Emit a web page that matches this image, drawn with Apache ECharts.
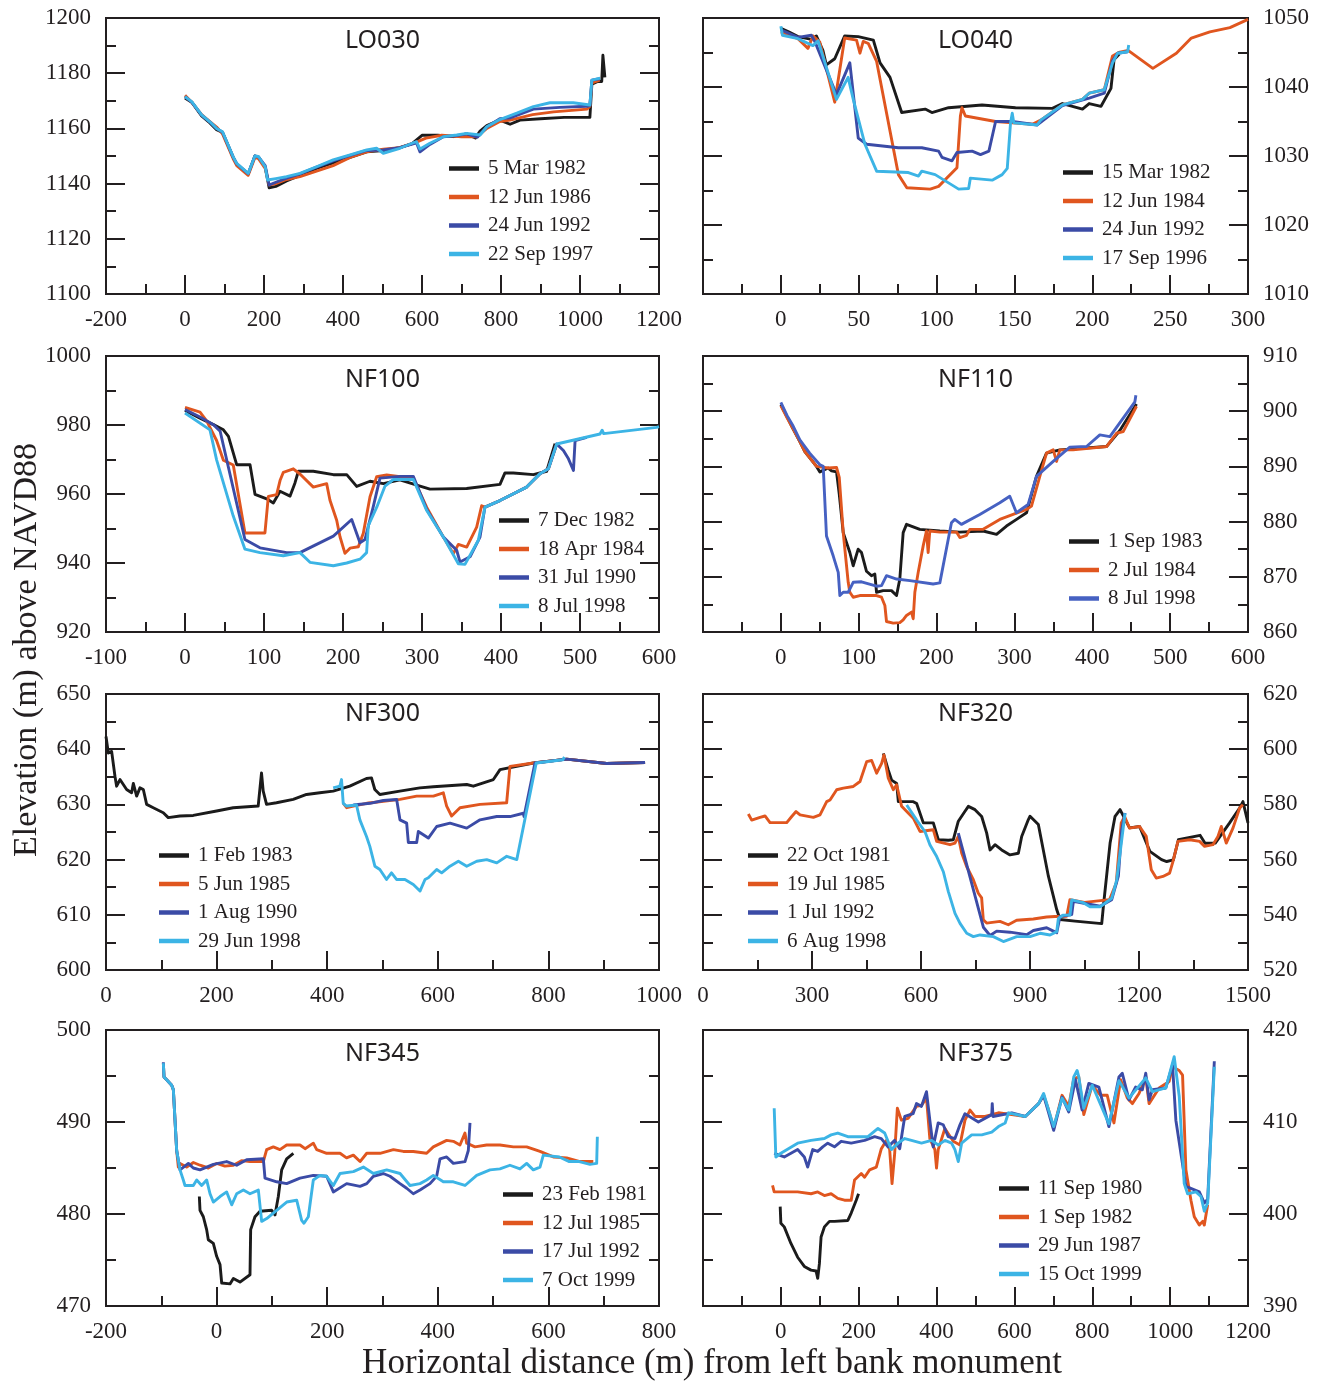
<!DOCTYPE html>
<html><head><meta charset="utf-8">
<script src="https://cdn.jsdelivr.net/npm/echarts@6/dist/echarts.min.js"></script>
<style>html,body{margin:0;padding:0;background:#fff}#c{width:1332px;height:1384px}</style>
</head><body><div id="c"></div>
<script>
// ---------- DATA ----------
const panelNames = ['LO030','LO040','NF100','NF110','NF300','NF320','NF345','NF375'];
const lo030Dates = ['5 Mar 1982','12 Jun 1986','24 Jun 1992','22 Sep 1997'];
const lo040Dates = ['15 Mar 1982','12 Jun 1984','24 Jun 1992','17 Sep 1996'];
const nf100Dates = ['7 Dec 1982','18 Apr 1984','31 Jul 1990','8 Jul 1998'];
const nf110Dates = ['1 Sep 1983','2 Jul 1984','8 Jul 1998'];
const nf300Dates = ['1 Feb 1983','5 Jun 1985','1 Aug 1990','29 Jun 1998'];
const nf320Dates = ['22 Oct 1981','19 Jul 1985','1 Jul 1992','6 Aug 1998'];
const nf345Dates = ['23 Feb 1981','12 Jul 1985','17 Jul 1992','7 Oct 1999'];
const nf375Dates = ['11 Sep 1980','1 Sep 1982','29 Jun 1987','15 Oct 1999'];

const xMin = [-200,-50,-100,-100,0,0,-200,-200];
const xMax = [1200,300,600,600,1000,1500,800,1200];
const xStep = [200,50,100,100,200,300,200,200];
const yMin = [1100,1010,920,860,600,520,470,390];
const yMax = [1200,1050,1000,910,650,620,500,420];
const yStep = [20,10,20,10,10,20,10,10];

const lo030_a = [[0,1171],[17,1169.5],[42,1164.5],[63,1162],[80,1159.5],[95,1158.5],[122,1149.5],[131,1147],[160,1143.5],[177,1150],[186,1149.5],[203,1146],[213,1138.5],[230,1139],[257,1141],[291,1143],[333,1145.5],[375,1147.5],[418,1149.5],[460,1151.5],[502,1152],[544,1153],[575,1154.5],[600,1157.5],[640,1157.5],[680,1157],[713,1158],[735,1156.5],[747,1159],[764,1161],[797,1163],[823,1161.5],[848,1163],[900,1163.5],[960,1164],[1025,1164],[1030,1176],[1045,1177],[1055,1177],[1058,1186.5],[1063,1178.5]];
const lo030_b = [[0,1172],[17,1169.5],[42,1165],[63,1162.5],[80,1160.5],[95,1158],[122,1149],[131,1146.5],[160,1143],[177,1149.5],[186,1149],[203,1145.5],[213,1139.5],[230,1140],[257,1141.5],[291,1142.5],[333,1144.5],[375,1146.5],[418,1149.5],[460,1151.5],[502,1152.5],[544,1153],[586,1155],[610,1156.5],[650,1157.5],[700,1157],[740,1157],[764,1160],[797,1162.5],[823,1163],[880,1165],[933,1166],[1018,1167],[1025,1168],[1030,1176.5],[1050,1177.5]];
const lo030_c = [[0,1171.5],[17,1169.5],[42,1164.8],[63,1162.3],[80,1160],[95,1158.6],[122,1149.6],[131,1147.2],[160,1143.6],[177,1150],[186,1149.7],[203,1146.5],[213,1139.5],[230,1140.5],[257,1142],[291,1143.5],[333,1146],[375,1148.2],[418,1150.2],[460,1152],[502,1152.2],[544,1153],[586,1154.8],[595,1151.5],[620,1154.2],[654,1157],[688,1157.4],[713,1158],[740,1156.8],[764,1160.5],[797,1163.5],[823,1163.8],[882,1167],[949,1167.6],[1018,1168],[1025,1168.3],[1030,1177.5],[1050,1178]];
const lo030_d = [[0,1171.5],[17,1169.7],[42,1164.9],[63,1162.4],[80,1160],[95,1158.8],[122,1149.7],[131,1147.3],[160,1143.7],[177,1150],[186,1149.8],[203,1146.1],[209,1141.3],[230,1141.8],[257,1142.5],[291,1143.7],[333,1146.1],[375,1148.6],[418,1150.4],[460,1152.2],[485,1152.8],[502,1151],[544,1152.8],[578,1154.8],[586,1155.2],[595,1152.5],[620,1154.6],[654,1157],[688,1157.6],[713,1158.2],[747,1157.6],[764,1160.6],[797,1163.2],[840,1165.5],[882,1167.9],[924,1169.3],[983,1169.3],[1025,1168.5],[1030,1177.5],[1051,1178.2]];

const lo040_a = [[0,1048.5],[5,1048],[11,1047.3],[19.6,1046.9],[22.8,1047.4],[27,1045.3],[29.2,1043.2],[34.6,1044.1],[41,1047.4],[49.7,1047.3],[59.4,1046.8],[63.7,1043.5],[70.1,1041.4],[77.6,1036.3],[92.7,1036.8],[97,1036.3],[107.7,1037],[129.2,1037.4],[150.7,1037],[174.4,1036.9],[180.8,1037.6],[193.7,1036.8],[198,1037.6],[205.6,1037.2],[212,1039.8],[214,1044],[217.4,1044.8]];
const lo040_b = [[0,1048],[11,1047],[17.4,1045.6],[20.6,1047.4],[25,1046.5],[34.6,1037.8],[41,1047.1],[48.6,1046.8],[50.8,1044.9],[52.9,1046.6],[56.2,1046.3],[61.5,1043.7],[75.5,1027.3],[80.9,1025.4],[95.9,1025.2],[101.3,1025.6],[113.1,1028.3],[115.3,1035.8],[116.3,1037],[118.5,1035.8],[137.9,1035],[161.5,1034.6],[166.9,1035.2],[180.8,1037.4],[193.7,1038.2],[198,1039.1],[207.7,1039.6],[213,1044.5],[217,1045],[223,1045.3],[238.9,1042.7],[254,1044.9],[263.6,1047.1],[275.5,1048],[288.4,1048.6],[300,1049.8]];
const lo040_c = [[0,1048.3],[11,1047.2],[19.6,1047.5],[22,1046.5],[35.7,1038.9],[44.3,1043.5],[49.7,1032.6],[55.1,1031.7],[75.5,1031.2],[90.5,1031.2],[101.3,1030.7],[103.5,1029.8],[109.9,1029.3],[113.1,1030.5],[122.8,1030.7],[128.2,1030.2],[133.6,1030.7],[137.9,1035],[148.6,1035],[164.7,1034.5],[180.8,1037.3],[198,1038.4],[207.7,1039.1],[213,1043.8],[216.3,1044.9],[222.7,1045.1]];
const lo040_d = [[0,1048.8],[1,1047.5],[11,1047],[20.6,1046],[23.9,1046.7],[35.7,1038.2],[43.2,1041.4],[46.5,1038.2],[54,1031.7],[61.5,1027.8],[81.9,1027.6],[88.4,1027.1],[90.5,1027.8],[99.1,1027.3],[114.2,1025.2],[120.6,1025.3],[121.7,1026.8],[135.7,1026.5],[142.1,1027.3],[145.4,1028.2],[147.5,1034.8],[148.6,1036.2],[149.6,1034.8],[164.7,1034.5],[166.9,1035.2],[180.8,1037.4],[193.7,1038.2],[198,1039.1],[207.7,1039.6],[213,1043.5],[216.3,1044.9],[222.7,1045.1],[223.4,1046.1]];

const nf100_a = [[0,984.2],[19,982],[36,980.1],[48.6,978.6],[55,976.7],[65.4,968.5],[82.3,968.5],[88.6,959.9],[103.4,958.6],[111.8,957.4],[120.3,960.8],[133,959.4],[139.2,963.2],[143.5,966.6],[162.4,966.6],[187.8,965.6],[204.7,965.6],[217.3,962.2],[234.2,963.7],[251.1,963],[272,964.1],[297.5,962.3],[310.1,961.4],[356.5,961.6],[398.7,962.8],[405,966.1],[415.6,966.1],[441,965.6],[457.8,966.6],[468.4,974.6]];
const nf100_b = [[0,985.1],[19,983.7],[27.4,981.2],[40,975.5],[48.6,969.8],[61.1,968.4],[75.9,948.7],[101.2,948.7],[105.5,959.3],[116,959.8],[120.3,963.9],[124.5,966.3],[137.1,967.3],[145.5,965.8],[162.4,962],[179.3,963],[183.5,958.2],[192,952.4],[196.2,947.6],[202.5,942.8],[208.9,944.3],[219.4,944.7],[225.7,948.6],[234.2,959.2],[242.6,965],[255.3,965.5],[289,964.5],[306,956.1],[327.1,947.5],[339.7,942.7],[346,945.4],[356.6,944.6],[369.2,950.4],[375.5,956.6],[379.7,956.2],[398.7,958.1],[432.5,962],[449.4,965.9],[460,967.3],[470.5,974.5]];
const nf100_c = [[0,984.5],[19,982.3],[36,980.1],[44.5,978.2],[75.9,946.8],[94.9,944.4],[128.7,943],[145.5,943],[187.8,947.8],[211,952.6],[221.5,945.9],[227.8,946.8],[238.4,956.4],[246.8,964.6],[272.2,965.1],[289,965.1],[306,955.5],[327.1,947.5],[343.9,943.7],[348.1,940.3],[360.8,941.8],[373.4,947.5],[379.7,956.2],[398.7,958.1],[432.5,962],[449.4,965.9],[460,967.3],[470.5,974.5],[479,972.6],[485.4,970.2],[491.7,966.8],[493.8,975.5],[508.6,976.4]];
const nf100_d = [[0,983.5],[31.6,978.6],[40,969.9],[61.1,953.6],[75.9,944],[94.9,943],[124.4,942.1],[145.5,943],[158.2,940.2],[187.8,939.2],[204.7,940],[221.5,941.1],[229.9,943],[232,950.8],[242.6,956.1],[253.2,962.3],[263.7,964.2],[289,964.2],[306,955.2],[327.1,947.5],[346,939.8],[354.4,939.6],[371.3,946.6],[379.7,956.2],[398.7,958.1],[432.5,962],[449.4,965.9],[460,967.3],[470.5,974.5],[525.3,977.4],[528,978.5],[530,977.5],[597,979.3],[600,979.5]];

const nf110_a = [[0,901.2],[8,899],[15,897],[24.4,894.5],[30.8,892.7],[45.8,890],[50.1,889],[60.8,889.7],[65.1,889.2],[71.5,889],[75,885],[80.1,878],[88.6,874.4],[92.9,872],[99.3,875],[103.6,874.4],[110,871],[116.4,870.2],[120.7,870.5],[122.9,867.2],[131.4,867.5],[142.1,867.5],[148.6,866.6],[152.8,869.6],[157.1,878],[161.4,879.5],[178.5,878.6],[204.2,878.3],[229.9,878.1],[259.8,878.3],[277,877.7],[289.8,879.2],[302.7,880.4],[315.5,881.6],[328.3,888.2],[341.2,892.4],[358.3,893],[418.3,893.6],[435.4,896.5],[456.8,901.3]];
const nf110_b = [[0,901],[8,898.8],[15,897],[24.4,894.5],[30.8,892.7],[45.8,890],[60.8,889.7],[71.5,889.8],[75,888],[80.1,878],[86.5,869],[88.6,867.2],[92.9,866.3],[101.4,866.6],[110,866.6],[122.9,866.6],[129.3,866.3],[133.6,864.8],[135.7,861.9],[144.3,861.6],[152.8,861.7],[157.1,862.2],[161.4,863],[167.8,863.6],[170,862.4],[172.1,867.2],[176.4,870.8],[182.8,875.6],[187,878.3],[189.2,874.4],[191.3,878.3],[204.2,878.1],[225.6,878.1],[229.9,877.1],[238.4,877.5],[242.7,878.6],[259.8,878.6],[281.2,880.4],[298.3,881.3],[315.5,882.2],[321.9,882.8],[332.6,888.2],[341.2,892.4],[349.8,893],[354.1,890.9],[358.3,893],[375.4,893],[418.3,893.6],[431.1,896],[439.7,896.3],[456.8,900.9]];
const nf110_c = [[0,901.6],[8,899.2],[15,897.5],[24.4,894.8],[37,892.4],[50.1,890.3],[54.4,890],[58.6,877.4],[67.2,873.8],[73.7,870.8],[75.8,866.6],[80.1,867.2],[86.5,867.2],[92.9,869],[103.6,869.1],[122.9,868.3],[129.3,868.4],[135.7,870.2],[148.6,869.6],[165.7,869.3],[195.6,868.7],[204.2,868.9],[219.1,879.8],[223.4,880.4],[231.9,879.5],[255.5,881.3],[281.2,883.4],[294,884.6],[302.6,881.6],[317.6,883.1],[328.3,888.2],[349.8,890.9],[371.2,893.5],[392.6,893.6],[409.7,895.7],[422.6,895.4],[454.7,901.7],[456,902.9]];

const nf300_a = [[0,642.3],[4.2,639.3],[10.2,639.6],[16.2,635.1],[19.2,633.3],[25.3,634.5],[37.3,632.7],[46.3,632.1],[49.4,633.8],[55.4,631.5],[61.4,633],[67.5,632.7],[73.5,630],[85.5,629.4],[103.6,628.5],[112.6,627.6],[133.7,627.9],[157.8,628],[200,628.8],[230,629.4],[275.2,629.7],[281.2,635.7],[284.3,632.4],[290.3,630],[308.3,630.3],[338.5,630.9],[362.6,631.8],[386.7,632.1],[410.8,632.4],[440.9,633.3],[471,634.7],[480.1,634.8],[486.1,632.7],[495.2,631.8],[531.3,632.4],[567.5,633],[592,633.2],[652.3,633.6],[664.3,633.3],[700.5,634.5],[712.5,636.3],[772.8,637.5],[833.1,638.2],[905.4,637.4],[974.8,637.6]];
const nf300_b = [[429.2,630.2],[435.2,629.4],[447.3,629.7],[471.4,630.2],[531.6,630.9],[561.7,631.5],[592,631.5],[610,632.1],[616,629.7],[625,627.9],[640.1,629.4],[676.3,630],[724.5,630.3],[730.5,636.9],[772.8,637.5],[833.1,638.2],[905.4,637.4],[974.8,637.6]];
const nf300_c = [[447.3,629.9],[477.4,630.2],[501.5,630.7],[525.6,630.9],[531.6,627.2],[543.7,626.6],[546.7,623.1],[561.8,623.1],[564.8,625.1],[582.9,623.9],[598,626],[622.1,626.6],[652.3,625.7],[676.4,627.2],[706.5,627.8],[730.6,627.8],[754.7,628.4],[755.9,627.8],[775.7,637.5],[833.1,638.2],[905.4,637.4],[974.8,637.6]];
const nf300_d = [[410.8,633],[422.9,633.3],[425.9,634.5],[429,630.2],[435,629.7],[453,629.9],[459.1,627.2],[471.1,624.2],[477.1,622.4],[486.2,618.8],[495.2,618.2],[507.3,616.4],[516.3,617.6],[525.4,616.4],[540.6,616.4],[555.7,615.5],[567.8,614.3],[576.9,616.4],[582.9,616.7],[598,618.2],[607,617.6],[622.1,618.8],[637.2,619.7],[652.3,618.8],[670.4,619.7],[688.5,620],[706.6,619.4],[724.7,620.6],[742.8,620],[778,637.5],[826.2,638.1],[829,638.6]];

const nf320_a = [[496.4,598.5],[510,592.4],[519.2,588.8],[533,587.6],[537.6,581],[578.8,581],[588,580.3],[606.4,573.3],[633.9,573.3],[638.5,572.7],[647.7,567.2],[675.2,567],[689,567.2],[702.7,573.9],[721.1,577.5],[730.3,579.3],[748.6,578.1],[767,575.6],[780.8,569.6],[790,563.5],[803.7,565.4],[822,563.5],[845,561.7],[868,562.3],[877.1,568.4],[895.5,574.5],[900.1,575.7],[923,572.7],[950.6,554],[973.5,541.9],[982.7,538.3],[1024,537.7],[1097.4,536.8],[1102,543.1],[1120.4,566],[1134.1,575.7],[1147.9,578.1],[1160,575],[1174,571.5],[1201.6,572],[1230,563],[1262,560],[1276.3,559.3],[1294.6,559.9],[1308.4,567.2],[1368,568.8],[1381.8,565.9],[1410,566],[1449.4,573.3],[1477,578.7],[1486.1,581],[1500,573.3]];
const nf320_b = [[124.8,576.5],[134,574.3],[157,575.3],[170.7,575.8],[184.5,573.4],[230.4,573.4],[244.2,575.6],[256.1,577.4],[267.1,576.2],[303.7,575.3],[322,576.2],[340.4,581],[349.6,581.6],[367.9,585.3],[386.3,585.9],[413.8,586.5],[432.1,588.3],[450.5,595.5],[464.2,595.9],[478,591.3],[491.7,594.9],[498.1,597.9],[510,589.5],[523.8,585.3],[533,587.1],[546.7,579.3],[578.8,575],[597.2,570.2],[633.9,570.8],[643.1,566.6],[679.8,565.4],[693.5,566],[702.7,568.4],[711.9,562.4],[725.6,557.5],[744,552.7],[757.7,547.8],[766.9,546.1],[771.5,538.2],[780.6,537],[817.3,537.6],[840.3,536.4],[863.2,538],[909.1,538.5],[945.8,539.2],[968.7,539.4],[1001,539.5],[1010,545.5],[1050,544.5],[1119,545.5],[1137.4,551.5],[1151.1,573.3],[1160.3,575.6],[1174.1,571.4],[1201.6,572],[1220,568.4],[1233.8,556.3],[1247.5,553.3],[1265.9,553.9],[1284.2,555.1],[1293.4,559.3],[1307.2,566.6],[1339.3,567.2],[1366.8,566.6],[1380.6,564.8],[1403.5,565.4],[1417.3,568.4],[1426.5,572],[1440.2,566],[1458.6,571.4],[1477,578.7],[1486,579.9]];
const nf320_c = [[702.7,569.6],[705.6,569],[771.6,535.5],[790,532.5],[808.3,534.1],[845,533.7],[890.9,532.8],[909.3,534.3],[945.9,535.3],[964.3,534.1],[973.5,533.5],[982.7,539.4],[1014.8,540.1],[1019.4,544.9],[1092.8,543.1],[1124.9,545.5],[1143.2,554],[1152.4,570.8],[1161.6,576.9]];
const nf320_d = [[560.6,579.8],[588.1,574.3],[611.1,570.1],[624.8,565.3],[643.2,561.1],[661.5,555.6],[675.3,548.4],[693.6,540.5],[707.4,536.9],[725.8,533.3],[744.1,532.1],[762.5,532.7],[799.2,532.1],[826.7,530.3],[863.4,532.1],[900.1,532.1],[927.6,533.3],[955.1,532.7],[973.5,533.9],[978.1,538.7],[991.8,539.9],[1010.2,539.9],[1014.8,545.4],[1046.9,544.4],[1065.2,542.9],[1092.8,542.9],[1124.9,546],[1138.6,552.6],[1147.8,562.3],[1161.6,576.8]];

const nf345_a = [[-31.2,481.9],[-30,480.4],[-24,479.7],[-18,478.3],[-15,477.2],[-5.9,476.8],[0.1,475.4],[6.2,474.5],[9.2,472.5],[24.2,472.4],[30.3,473],[42.3,472.6],[60.4,473.4],[61.6,478.3],[69.4,479.7],[78.5,480.3],[99.6,480.4],[105.6,479.9],[111.6,481.9],[117.7,484.8],[126.7,486],[138.8,486.6]];
const nf345_b = [[-96.3,496.4],[-95.1,494.9],[-90.3,494.6],[-81.2,494],[-78.2,493.5],[-72.2,486.9],[-69.2,485.1],[-66.2,485.5],[-54.1,485.1],[-42,485.6],[-30,485.3],[-15,485],[0.1,485.5],[15,485.2],[30.3,485.3],[45,485.8],[60.4,485.7],[84.5,485.7],[90.5,487],[102.6,487.3],[114.6,487],[126.7,487.5],[150.8,487.5],[160,487.1],[174.9,487.7],[181,487],[199,486.6],[223.2,486.6],[235,486.1],[247.3,486.4],[259.4,485.7],[271.5,486.6],[295.6,486.6],[319.7,487],[337.7,486.8],[355.7,486.8],[379.8,486.6],[391.9,487.3],[416,488],[428.1,487.9],[440.1,487.5],[449.1,488.8],[452.2,487.7],[467.2,487.3],[488.3,487.5],[512.4,487.5],[536.6,487.3],[560.7,487.3],[584.8,486.8],[608.9,486.2],[633,486.1],[657.1,485.7],[681.2,485.7]];
const nf345_c = [[-96.3,496.5],[-95.1,494.9],[-90.3,494.6],[-81.2,494],[-78.2,493.5],[-72.2,486.9],[-66.2,484.8],[-51.1,485.5],[-42.1,485],[-30,484.8],[-5.9,485.4],[18.2,485.7],[36.3,485.3],[54.3,485.9],[84.5,486],[87.5,483.9],[108.6,483.5],[126.7,483.3],[150.8,483.9],[174.9,484.2],[199,484.1],[211.1,482.4],[235.2,483.3],[259.4,483],[271.5,483.3],[283.5,484.1],[301.5,484.4],[313.6,484.1],[331.7,483.3],[343.7,482.8],[355.7,482.2],[367.8,482.6],[385.9,483.3],[397.9,484.1],[404,486],[416,486.2],[428.1,485.5],[449.2,485.7],[455.2,486.9],[458.2,489.9]];
const nf345_d = [[-96.3,496.4],[-95.1,494.9],[-90.3,494.6],[-81.2,494],[-78.2,493.5],[-72.2,486.9],[-66.2,484.8],[-60.2,483.7],[-57.2,483.1],[-42.1,483.1],[-36,483.7],[-27,483.1],[-18,483.7],[-11.9,482.2],[-5.9,481.3],[6.2,481.9],[18.2,482.4],[27.3,481],[36.3,482.2],[48.4,482.6],[60.4,482.2],[75.5,482.6],[81.5,479.2],[90.6,479.5],[108.6,480.4],[126.7,481.3],[144.8,481.5],[153.8,479.3],[158,479],[165.9,479.7],[174.9,483.7],[187,484.2],[199,484.1],[211.1,483.1],[223.2,484.4],[247.3,484.6],[265.4,485.1],[283.5,484.4],[307.6,484.8],[331.7,484.4],[349.7,483.1],[367.8,483.3],[379.8,483.7],[391.9,484.2],[410,483.5],[428.1,483.5],[449.2,483.1],[470.3,484.2],[494.4,484.8],[512.4,484.9],[530.5,485.3],[548.6,484.9],[560.7,485.5],[572.7,484.8],[584.8,485.1],[590.8,486.4],[619.7,486.2],[637.8,485.7],[655.9,485.7],[675.2,485.4],[687.3,485.5],[688.5,488.4]];

const nf375_a = [[-1.7,400.8],[0,399],[8.7,398.6],[25.9,396.8],[43.1,395.3],[60.3,394.3],[77.5,393.9],[90.4,393.8],[94.7,393],[99,394.6],[103.3,397.5],[111.9,398.6],[124.8,399.2],[137.7,399.2],[172.1,399.3],[180.7,400.1],[193.6,401.5],[199.6,402.2]];
const nf375_b = [[-21.4,403.1],[-17.1,402.4],[0,402.4],[43.1,402.4],[77.5,402.2],[94.7,402.4],[111.9,402],[129.1,402.2],[146.3,401.7],[163.5,401.5],[180.7,401.5],[189.3,403.7],[206.5,404.4],[215.1,404],[228,404.8],[245.2,405.1],[258.1,407.1],[270.9,408],[279.5,407],[285.6,403.3],[292.4,406.6],[299.3,411.5],[309.6,410.2],[326.8,410.4],[348.3,411.7],[361.2,411.8],[374.1,412.6],[382.7,408.2],[395.6,407],[399.9,405],[404.2,407],[421.4,409.3],[442.9,407.9],[460.1,407.5],[473,410.2],[485.9,411.3],[498.8,410.6],[524.6,410.6],[559,411],[593.4,410.8],[627.8,410.6],[662.2,412],[675,412.9],[687.9,411.3],[700.8,409.3],[722.3,412.9],[739.5,411.7],[752.4,414.7],[765.3,414.9],[778.2,410.8],[799.7,414],[821.2,412.9],[838.4,412.9],[855.6,409.9],[872.8,414.6],[890,412.6],[902.9,412],[920.1,413.1],[937.3,414.9],[945.9,412],[971.7,413.7],[997.5,414.4],[1006.1,416],[1023.3,415.6],[1031.9,415.1],[1040.5,404.8],[1053.4,401.5],[1062,399.7],[1074.9,398.8],[1083.5,399.2],[1087.8,398.8],[1096.4,401]];
const nf375_c = [[-17.1,406.6],[8.7,406.2],[43.1,407],[60.3,406.2],[68.9,405.1],[81.8,407],[94.7,406.8],[107.6,407.3],[120.5,407.7],[137.7,407.3],[154.9,407.9],[180.7,407.7],[215.1,408],[240.9,408.4],[258.1,408.2],[275.2,407.3],[292.4,408],[305.3,407.1],[318.2,410.6],[339.7,410.9],[348.3,412],[361.2,411.7],[374.1,413.3],[382.7,410.2],[391.3,407.3],[404.2,409.9],[417.1,409.7],[430,408.4],[447.2,408.2],[460.1,409.7],[473,410.9],[507.4,410],[541.8,410.8],[543,412],[545,410.6],[593.4,411],[627.8,410.6],[662.2,412],[675,412.9],[700.8,409.1],[722.3,412.7],[739.5,411.1],[756.7,414.6],[773.9,411.3],[791.1,414.2],[816.9,413.8],[842.7,409.5],[868.5,414.9],[877.1,415.3],[894.3,412.4],[911.5,413.8],[928.7,413.5],[937.3,415.3],[945.9,412.4],[954.5,413.5],[988.9,413.7],[1006.1,416.2],[1014.7,410.2],[1040.5,403],[1074.9,402.4],[1087.8,401.2],[1096.4,401.6],[1113.5,416.6]];
const nf375_d = [[-17.1,411.5],[-12.9,406.2],[0,406.6],[43.1,407.7],[77.5,408],[111.9,408.2],[129.1,408.6],[146.3,408.8],[172.1,408.4],[197.9,408.4],[223.7,408.4],[249.5,409.3],[266.7,408.8],[283.9,407],[301.1,407.7],[318.3,408.2],[335.5,408],[361.3,407.7],[387.1,408],[404.3,407.5],[421.5,408],[438.6,407.7],[447.2,407],[455.8,405.7],[464.4,407.7],[490.2,408.6],[516,408.6],[541.8,408.9],[559,409.5],[576.2,409.9],[584.8,411],[627.8,410.6],[662.2,412],[675,413.1],[700.8,409.5],[722.3,412.6],[739.5,411.3],[752.4,414.9],[761,415.6],[765.3,414.9],[778,411.5],[800,414],[842.7,409.8],[868.5,414.5],[894.3,412.6],[937.3,414.8],[954.5,413.3],[988.9,413.7],[1010.4,417.1],[1023.3,412.8],[1036.2,403.3],[1044.8,402.2],[1066.3,402.4],[1079.2,401.9],[1087.8,400.3],[1096.4,401.2],[1113.5,416]];

// ---------- ASSEMBLY ----------
const panelDates = [lo030Dates, lo040Dates, nf100Dates, nf110Dates, nf300Dates, nf320Dates, nf345Dates, nf375Dates];
const panelSeries = [
  [lo030_a, lo030_b, lo030_c, lo030_d],
  [lo040_a, lo040_b, lo040_c, lo040_d],
  [nf100_a, nf100_b, nf100_c, nf100_d],
  [nf110_a, nf110_b, nf110_c],
  [nf300_a, nf300_b, nf300_c, nf300_d],
  [nf320_a, nf320_b, nf320_c, nf320_d],
  [nf345_a, nf345_b, nf345_c, nf345_d],
  [nf375_a, nf375_b, nf375_c, nf375_d]
];
const BLACK = '#1b1b1b', ORANGE = '#e0561f', BLUE = '#3b4ba6', LBLUE = '#3cb4e5';
const panelColors = [
  [BLACK, ORANGE, BLUE, LBLUE], [BLACK, ORANGE, BLUE, LBLUE], [BLACK, ORANGE, BLUE, LBLUE],
  [BLACK, ORANGE, '#4661c2'],
  [BLACK, ORANGE, BLUE, LBLUE], [BLACK, ORANGE, BLUE, LBLUE], [BLACK, ORANGE, BLUE, LBLUE], [BLACK, ORANGE, BLUE, LBLUE]
];
const COLS = [{ left: 106, width: 553 }, { left: 703, width: 545 }];
const ROWS = [18, 356, 694, 1030];
const PH = 276;
const legendPos = [[449, 158], [1063, 162], [499, 510], [1069, 531], [159, 845], [748, 845], [503, 1184], [999, 1178]];
const hideMinX = [false, true, false, true, false, false, false, true];
const titleY = [41, 380, 714, 1054];

const INK = '#231f20';
const SERIF = '"Liberation Serif", "Times New Roman", serif';
const SANS = '"Noto Sans", "Open Sans", sans-serif';
const plain = v => String(v);

const grid = [], xAxis = [], yAxis = [], series = [], legend = [], graphic = [];
for (let i = 0; i < 8; i++) {
  const col = COLS[i % 2], top = ROWS[Math.floor(i / 2)];
  grid.push({ left: col.left, top: top, width: col.width, height: PH, show: true, borderColor: INK, borderWidth: 2, containLabel: false });
  const tickCommon = {
    axisLine: { show: true, onZero: false, lineStyle: { color: INK, width: 2 } },
    axisTick: { show: true, inside: true, length: 19, lineStyle: { color: INK, width: 2 } },
    minorTick: { show: true, splitNumber: 2, length: 10, lineStyle: { color: INK, width: 2 } },
    splitLine: { show: false }, minorSplitLine: { show: false }
  };
  xAxis.push(Object.assign({
    gridIndex: i, type: 'value', position: 'bottom', min: xMin[i], max: xMax[i], interval: xStep[i],
    axisLabel: { margin: 14, fontFamily: SERIF, fontSize: 23, color: INK, formatter: plain, showMinLabel: !hideMinX[i], showMaxLabel: true }
  }, tickCommon));
  const labelSide = (i % 2 === 0) ? 'left' : 'right';
  const otherSide = (i % 2 === 0) ? 'right' : 'left';
  yAxis.push(Object.assign({
    gridIndex: i, type: 'value', position: labelSide, min: yMin[i], max: yMax[i], interval: yStep[i],
    axisLabel: { margin: 15, fontFamily: SERIF, fontSize: 23, color: INK, formatter: plain, showMinLabel: true, showMaxLabel: true }
  }, tickCommon));
  yAxis.push(Object.assign({
    gridIndex: i, type: 'value', position: otherSide, min: yMin[i], max: yMax[i], interval: yStep[i],
    axisLabel: { show: false }
  }, tickCommon));
  const names = [];
  panelSeries[i].forEach((d, k) => {
    const nm = panelNames[i] + '|' + panelDates[i][k];
    names.push(nm);
    series.push({
      type: 'line', name: nm, xAxisIndex: i, yAxisIndex: 2 * i, data: d,
      symbol: 'none', showSymbol: false, clip: true,
      lineStyle: { width: 2.9, color: panelColors[i][k], join: 'round' },
      itemStyle: { color: panelColors[i][k] }, z: 3 + k
    });
  });
  legend.push({
    left: legendPos[i][0], top: legendPos[i][1], orient: 'vertical', padding: 0,
    icon: 'rect', itemWidth: 30, itemHeight: 4.5, itemGap: 7.5, selectedMode: false,
    data: names, formatter: n => n.split('|')[1],
    textStyle: { fontFamily: SERIF, fontSize: 21, color: INK, lineHeight: 21, padding: [0, 0, 0, 4] }
  });
  graphic.push({
    type: 'text', x: col.left + col.width / 2, y: titleY[Math.floor(i / 2)],
    style: { text: panelNames[i], font: '25px ' + SANS, fill: INK, align: 'center', verticalAlign: 'middle' }
  });
}
graphic.push({
  type: 'text', x: 27, y: 650, rotation: Math.PI / 2,
  style: { text: 'Elevation (m) above NAVD88', font: '34px ' + SERIF, fill: INK, align: 'center', verticalAlign: 'middle' }
});
graphic.push({
  type: 'text', x: 712, y: 1364,
  style: { text: 'Horizontal distance (m) from left bank monument', font: '35px ' + SERIF, fill: INK, align: 'center', verticalAlign: 'middle' }
});

const chart = echarts.init(document.getElementById('c'), null, { renderer: 'canvas' });
chart.setOption({ animation: false, backgroundColor: '#ffffff', grid, xAxis, yAxis, series, legend, graphic });
</script>
</body></html>
